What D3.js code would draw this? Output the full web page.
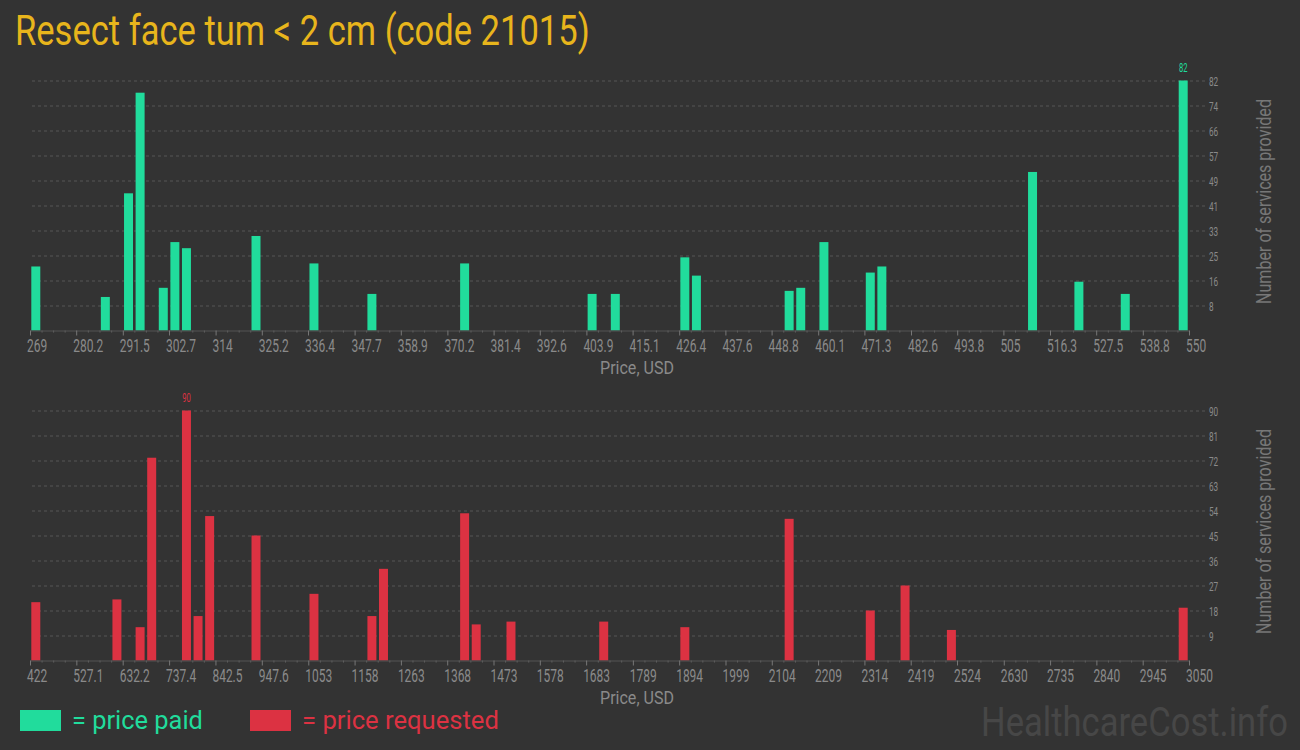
<!DOCTYPE html>
<html>
<head>
<meta charset="utf-8">
<script src="https://cdn.jsdelivr.net/npm/d3@7"></script>
<style>
  html, body { margin: 0; padding: 0; background: #333333; }
  svg { display: block; }
  text { font-family: Roboto, "Liberation Sans", sans-serif; }
</style>
</head>
<body>
<svg id="chart" width="1300" height="750"></svg>
<script>
// ---------- DATA ----------
const titleText = "Resect face tum < 2 cm (code 21015)";

// price paid histogram (bin lower edge in USD, count)
const paidPrices = [269.0, 285.86, 291.48, 294.29, 299.91, 302.72, 305.53, 322.39, 336.44, 350.49,
  372.97, 403.88, 409.5, 426.36, 429.17, 451.65, 454.46, 460.08, 471.32, 474.13, 510.66, 521.9, 533.14, 547.19];
const paidCounts = [21, 11, 45, 78, 14, 29, 27, 31, 22, 12,
  22, 12, 12, 24, 18, 13, 14, 29, 19, 21, 52, 16, 12, 82];
const paidTickLabels = ["269","280.2","291.5","302.7","314","325.2","336.4","347.7","358.9","370.2",
  "381.4","392.6","403.9","415.1","426.4","437.6","448.8","460.1","471.3","482.6","493.8","505",
  "516.3","527.5","538.8","550"];
const paidYTickLabels = ["8","16","25","33","41","49","57","66","74","82"];

// price requested histogram
const reqPrices = [422, 605.96, 658.52, 684.8, 763.64, 789.92, 816.2, 921.32, 1052.72, 1184.12,
  1210.4, 1394.36, 1420.64, 1499.48, 1709.72, 1893.68, 2130.2, 2314.16, 2393, 2498.12, 3023.72];
const reqCounts = [21, 22, 12, 73, 90, 16, 52, 45, 24, 16,
  33, 53, 13, 14, 14, 12, 51, 18, 27, 11, 19];
const reqTickLabels = ["422","527.1","632.2","737.4","842.5","947.6","1053","1158","1263","1368",
  "1473","1578","1683","1789","1894","1999","2104","2209","2314","2419","2524","2630","2735",
  "2840","2945","3050"];
const reqYTickLabels = ["9","18","27","36","45","54","63","72","81","90"];

const binsPerChart = 100;
const legendLabels = ["= price paid", "= price requested"];
const xAxisTitle = "Price, USD";
const yAxisTitle = "Number of services provided";
const watermark = "HealthcareCost.info";

// ---------- STYLE ----------
const BG = "#333333";
const GREEN = "#21dc9c";
const RED = "#dc3242";
const GOLD = "#e8b51c";
const TICK_COL = "#8a8a8a";
const SQ = 0.63; // horizontal squeeze for narrow tick font

const svg = d3.select("#chart");
svg.append("rect").attr("width", 1300).attr("height", 750).attr("fill", BG);

// place a text at (x,y) squeezed horizontally to a target width
function fitText(parent, str, x, y, width, attrs, rotate) {
  const t = parent.append("text").text(str);
  Object.entries(attrs).forEach(([k, v]) => t.attr(k, v));
  const natural = t.node().getComputedTextLength();
  const s = natural > 0 ? width / natural : 1;
  t.attr("transform", `translate(${x},${y})${rotate ? " rotate(" + rotate + ")" : ""} scale(${s},1)`);
  return t;
}

fitText(svg, titleText, 15, 45, 575, { "font-size": 42, fill: GOLD });

function drawChart(o) {
  const labelsNum = o.tickLabels.map(Number);
  const x0 = labelsNum[0], x1 = labelsNum[labelsNum.length - 1];
  const x = d3.scaleLinear().domain([x0, x1]).range([30, 1189]);
  const yMax = Number(o.yTickLabels[o.yTickLabels.length - 1]);
  const y = d3.scaleLinear().domain([0, yMax]).range([o.base, o.base - 250]);
  const g = svg.append("g");

  // gridlines + y labels (right side)
  const yTickVals = o.yTickLabels.map((d, i) => yMax * (i + 1) / o.yTickLabels.length);
  const gy = g.append("g").attr("transform", "translate(1205,0)")
    .call(d3.axisRight(y).tickValues(yTickVals)
      .tickSize(-1173).tickPadding(4)
      .tickFormat((d, i) => o.yTickLabels[i]));
  gy.select(".domain").remove();
  gy.selectAll(".tick line").attr("stroke", "#565656").attr("stroke-dasharray", "3,3");
  gy.selectAll(".tick text")
    .attr("fill", TICK_COL).attr("font-size", 13)
    .attr("x", null).attr("dy", null).attr("y", 4.5)
    .attr("transform", `translate(4,0) scale(${SQ},1)`);

  // bars
  const binW = (x1 - x0) / binsPerChart;
  const bw = x(x0 + binW) - x(x0);
  g.append("g").selectAll("rect").data(o.prices).join("rect")
    .attr("x", d => x(d) + 1.3)
    .attr("width", bw - 2.6)
    .attr("y", (d, i) => y(o.counts[i]))
    .attr("height", (d, i) => o.base - y(o.counts[i]))
    .attr("fill", o.color);

  // max label
  const mi = d3.maxIndex(o.counts);
  g.append("text")
    .attr("transform", `translate(${x(o.prices[mi]) + bw / 2},${y(o.counts[mi]) - 9}) scale(${SQ},1)`)
    .attr("text-anchor", "middle")
    .attr("font-size", 12)
    .attr("fill", o.color)
    .text(o.counts[mi]);

  // minor ticks
  const minor = [];
  for (let i = 0; i < labelsNum.length - 1; i++) {
    const a = labelsNum[i], b = labelsNum[i + 1];
    for (let k = 1; k < 4; k++) minor.push(a + (b - a) * k / 4);
  }
  const gm = g.append("g").attr("transform", `translate(0,${o.base})`)
    .call(d3.axisBottom(x).tickValues(minor).tickSize(2).tickFormat(""));
  gm.select(".domain").remove();
  gm.selectAll(".tick line").attr("stroke", "#666");

  // major axis
  const gx = g.append("g").attr("transform", `translate(0,${o.base})`)
    .call(d3.axisBottom(x).tickValues(labelsNum).tickSize(5).tickSizeOuter(0)
      .tickFormat((d, i) => o.tickLabels[i]));
  gx.select(".domain").attr("stroke", "#555").attr("stroke-width", 1.2);
  gx.selectAll(".tick line").attr("stroke", "#777");
  gx.selectAll(".tick text")
    .attr("fill", TICK_COL).attr("font-size", 19)
    .attr("text-anchor", "start")
    .attr("y", null).attr("dy", null)
    .attr("transform", `translate(-3.5,21.5) scale(${SQ},1)`);

  // axis titles
  fitText(g, xAxisTitle, 637, o.base + 43.5, 74,
    { "font-size": 18, fill: TICK_COL, "text-anchor": "middle" });
  fitText(g, yAxisTitle, 1270.5, o.base - 129, 205,
    { "font-size": 20, fill: "#777", "text-anchor": "middle" }, -90);
}

drawChart({ prices: paidPrices, counts: paidCounts, tickLabels: paidTickLabels,
  yTickLabels: paidYTickLabels, color: GREEN, base: 330.5 });
drawChart({ prices: reqPrices, counts: reqCounts, tickLabels: reqTickLabels,
  yTickLabels: reqYTickLabels, color: RED, base: 660.5 });

// legend
const legendColors = [GREEN, RED];
const legendX = [20, 250];
const legendW = [131, 197];
legendLabels.forEach((lab, i) => {
  svg.append("rect").attr("x", legendX[i]).attr("y", 710).attr("width", 41).attr("height", 21)
    .attr("fill", legendColors[i]);
  fitText(svg, lab, legendX[i] + 52, 729, legendW[i], { "font-size": 25, fill: legendColors[i] });
});

fitText(svg, watermark, 981, 736, 307, { "font-size": 40, fill: "#474747" });
</script>
</body>
</html>
